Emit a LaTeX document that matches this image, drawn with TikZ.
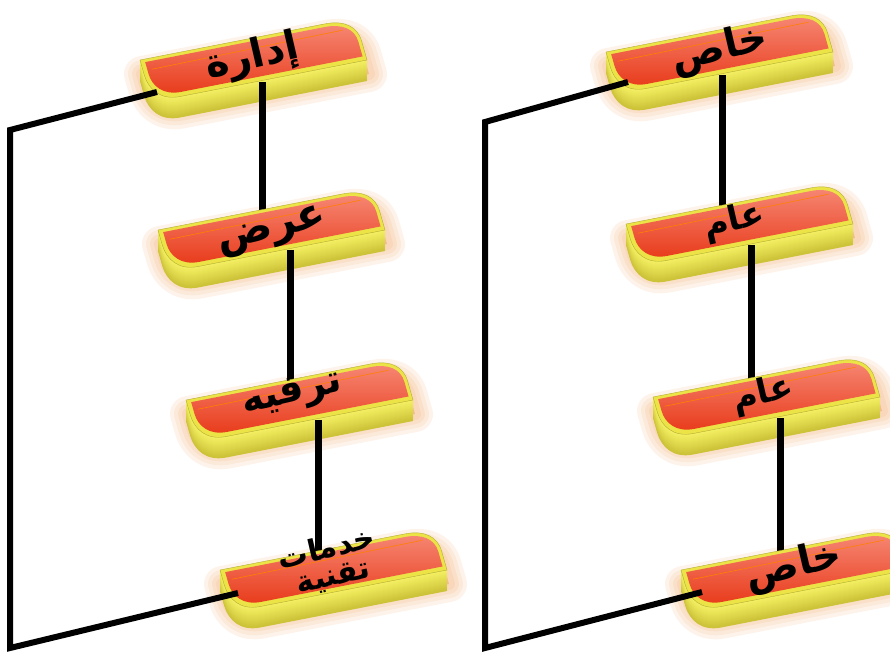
\documentclass[tikz,border=0pt]{standalone}
\usepackage{fontspec}
\newfontfamily\arabicfont[Script=Arabic]{DejaVu Sans}
\TeXXeTstate=1
\definecolor{faceTop}{RGB}{246,135,115}
\definecolor{faceMid}{RGB}{241,82,48}
\definecolor{faceBot}{RGB}{232,58,26}
\definecolor{rimY}{RGB}{236,228,70}
\definecolor{slabTop}{RGB}{246,242,100}
\definecolor{slabBot}{RGB}{180,165,30}
\definecolor{glowO}{RGB}{236,140,60}
\newcommand\tabpath{(0,1) -- (0.86,1) .. controls (0.95,1) and (1,0.8) .. (1,0.45) -- (1,0) -- (0.13,0) .. controls (0.04,0) and (0,0.3) .. (0,0.65) -- cycle}
\newcommand\tabpathin{(0.02,0.93) -- (0.855,0.93) .. controls (0.935,0.93) and (0.985,0.76) .. (0.985,0.45) -- (0.985,0.1) -- (0.14,0.1) .. controls (0.06,0.1) and (0.02,0.35) .. (0.02,0.65) -- cycle}
\newcommand\tabglow[2]{%
  \begin{scope}[shift={(#1,#2)}]
  \begin{scope}[x={(215pt,42pt)},y={(-12pt,42pt)}]
    \foreach \w in {36,28,20,12} {
      \filldraw[glowO, opacity=0.1, line width=\w pt, line join=round, shift={(2pt,-14pt)}] \tabpath;
    }
  \end{scope}
  \end{scope}}
\newcommand\tabbox[2]{%
  \begin{scope}[shift={(#1,#2)}]
  \begin{scope}[x={(215pt,42pt)},y={(-12pt,42pt)}]
    \foreach \d in {21,20,...,1} {
      \pgfmathtruncatemacro\mix{100-3*\d}
      \fill[slabTop!\mix!slabBot, shift={(0pt,-\d pt)}] \tabpath;
    }
    \fill[rimY] \tabpath;
    \draw[rimY!75!black, line width=0.4pt] \tabpath;
    \shade[top color=faceTop, middle color=faceMid, bottom color=faceBot] \tabpathin;
    \draw[orange, line width=0.6pt] (0.04,0.74) -- (0.93,0.78);
  \end{scope}
  \end{scope}}
\tikzset{
  conn/.style={line width=7pt, black},
  bracketline/.style={line width=6pt, black, line join=miter},
  lbl/.style={rotate=13, inner sep=0pt, align=center, text=black}
}
\begin{document}
\begin{tikzpicture}[x=1pt,y=-1pt]
\useasboundingbox (0,0) rectangle (890,657);
% glows
\tabglow{152}{102}\tabglow{170}{272}\tabglow{198}{442}\tabglow{232}{612}
\tabglow{618}{94}\tabglow{638}{266}\tabglow{665}{439}\tabglow{693}{612}
% connector end points
\coordinate (L1b) at (262,82);  \coordinate (L2t) at (262,212);
\coordinate (L2b) at (290,250); \coordinate (L3t) at (290,385);
\coordinate (L3b) at (318,420); \coordinate (L4t) at (318,555);
\coordinate (R1b) at (722,75);  \coordinate (R2t) at (722,210);
\coordinate (R2b) at (751,245); \coordinate (R3t) at (751,383);
\coordinate (R3b) at (780,418); \coordinate (R4t) at (780,555);
\coordinate (LB1) at (157,92); \coordinate (LB2) at (10,130);
\coordinate (LB3) at (10,648); \coordinate (LB4) at (238,593);
\coordinate (RB1) at (628,82); \coordinate (RB2) at (485,122);
\coordinate (RB3) at (485,648); \coordinate (RB4) at (702,592);
% left column
\tabbox{152}{102}
\draw[conn] (L1b) -- (L2t);
\tabbox{170}{272}
\draw[conn] (L2b) -- (L3t);
\tabbox{198}{442}
\draw[conn] (L3b) -- (L4t);
\tabbox{232}{612}
% right column
\tabbox{618}{94}
\draw[conn] (R1b) -- (R2t);
\tabbox{638}{266}
\draw[conn] (R2b) -- (R3t);
\tabbox{665}{439}
\draw[conn] (R3b) -- (R4t);
\tabbox{693}{612}
% labels
\node[lbl, font=\arabicfont\bfseries\fontsize{40}{40}\selectfont] (t1) at (252,58) {\beginR إدارة\endR};
\node[lbl, font=\arabicfont\bfseries\fontsize{42}{42}\selectfont] (t2) at (272,232) {\beginR عرض\endR};
\node[lbl, font=\arabicfont\bfseries\fontsize{38}{38}\selectfont] (t3) at (292,395) {\beginR ترفيه\endR};
\node[lbl, font=\arabicfont\bfseries\fontsize{30}{28}\selectfont] (t4) at (330,563) {\beginR خدمات\endR\\\beginR تقنية\endR};
\node[lbl, font=\arabicfont\bfseries\fontsize{40}{40}\selectfont] (r1) at (720,50) {\beginR خاص\endR};
\node[lbl, font=\arabicfont\bfseries\fontsize{34}{34}\selectfont] (r2) at (734,222) {\beginR عام\endR};
\node[lbl, font=\arabicfont\bfseries\fontsize{34}{34}\selectfont] (r3) at (763,395) {\beginR عام\endR};
\node[lbl, font=\arabicfont\bfseries\fontsize{40}{40}\selectfont] (r4) at (794,567) {\beginR خاص\endR};
% brackets
\draw[bracketline] (LB1) -- (LB2) -- (LB3) -- (LB4);
\draw[bracketline] (RB1) -- (RB2) -- (RB3) -- (RB4);
\end{tikzpicture}
\end{document}
